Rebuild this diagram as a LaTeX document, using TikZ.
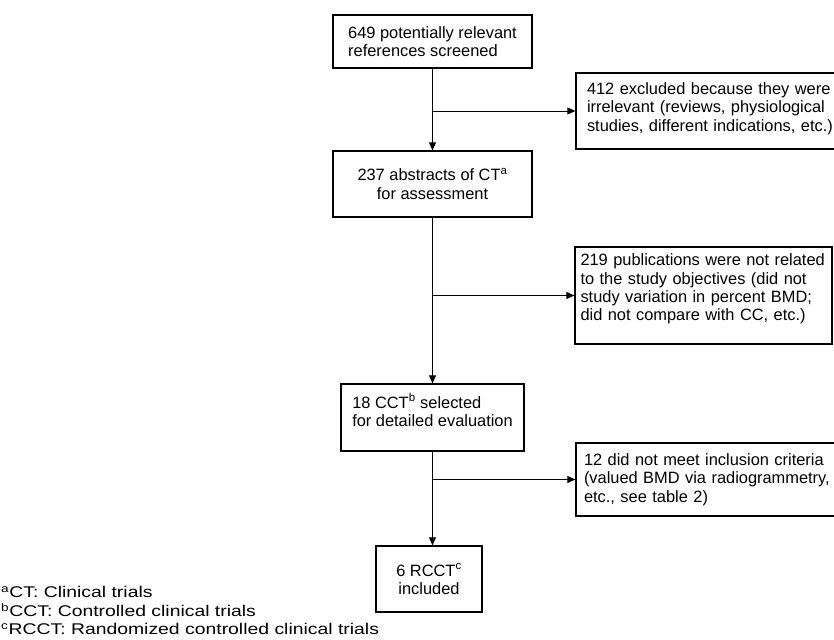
\documentclass[tikz,border=0pt]{standalone}
\usepackage{fontspec}
\setmainfont{Liberation Sans}
\usetikzlibrary{arrows.meta}
\begin{document}
\begin{tikzpicture}[x=1pt,y=-1pt,
  flowbox/.style={draw, line width=1.3pt, inner ysep=0pt, font=\fontsize{16.4}{18.3}\selectfont},
  conn/.style={line width=0.9pt},
  arr/.style={conn, -{Triangle[length=8pt,width=7pt]}},
  note/.style={anchor=base west, inner sep=0pt, font=\fontsize{15.5}{18.5}\selectfont}]
\fill[white] (0,0) rectangle (834,639);
\useasboundingbox (0,0) rectangle (834,639);
\clip (0,0) rectangle (834,639);
% main column
\node[flowbox, align=left, minimum width=199pt, minimum height=53pt, inner xsep=0pt] (b1) at (432.5,41.5)
  {649 potentially relevant\\references screened};
\node[flowbox, align=center, minimum width=199pt, minimum height=66pt, inner xsep=0pt] (b2) at (432.5,184)
  {237 abstracts of CT\textsuperscript{a}\\for assessment};
\node[flowbox, align=left, minimum width=183pt, minimum height=67pt, inner xsep=0pt] (b3) at (432.5,417.5)
  {18 CCT\textsuperscript{b} selected\\for detailed evaluation\rule[-15pt]{0pt}{0pt}};
\node[flowbox, align=center, minimum width=106pt, minimum height=66pt, inner xsep=0pt] (b4) at (429,579)
  {6 RCCT\textsuperscript{c}\\included};
% side boxes
\node[flowbox, align=left, text width=250pt, inner xsep=11pt, minimum height=76pt] (b412) at (712,111)
  {412 excluded because they were\\irrelevant (reviews, physiological\\studies, different indications, etc.)\rule[-8pt]{0pt}{0pt}};
\node[flowbox, align=left, text width=246pt, inner xsep=5.5pt, minimum height=97pt] (b219) at (703.5,295.5)
  {219 publications were not related\\to the study objectives (did not\\study variation in percent BMD;\\did not compare with CC, etc.)\rule[-16pt]{0pt}{0pt}};
\node[flowbox, align=left, text width=250pt, inner xsep=8pt, minimum height=73pt] (b12) at (709,479.5)
  {12 did not meet inclusion criteria\\(valued BMD via radiogrammetry,\\etc., see table 2)};
% connectors
\draw[arr] (b1.south) -- (b1.south |- b2.north);
\draw[arr] (b1.south |- b412.west) -- (b412.west);
\draw[arr] (b2.south) -- (b2.south |- b3.north);
\draw[arr] (b2.south |- b219.west) -- (b219.west);
\draw[arr] (b3.south) -- (b3.south |- b4.north);
\draw[arr] (b3.south |- b12.west) -- (b12.west);
% footnotes
\node[note] (fn1) at (1,597.5) {\scalebox{1.25}[1]{\textsuperscript{a}CT: Clinical trials}};
\node[note] (fn2) at (1,616.5) {\scalebox{1.25}[1]{\textsuperscript{b}CCT: Controlled clinical trials}};
\node[note] (fn3) at (1,634.5) {\scalebox{1.25}[1]{\textsuperscript{c}RCCT: Randomized controlled clinical trials}};
\end{tikzpicture}
\end{document}
